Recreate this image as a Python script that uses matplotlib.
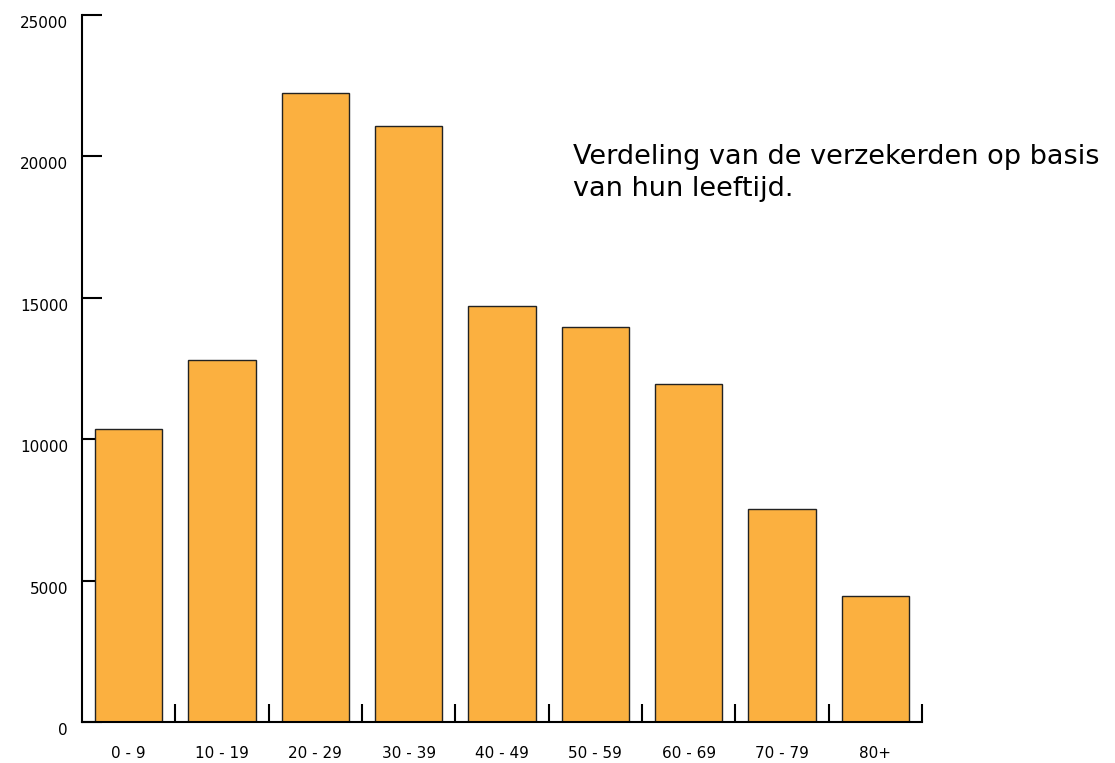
import numpy as np
import matplotlib.pyplot as plt
from matplotlib.transforms import ScaledTranslation

# Gegevens
categories = ['0 - 9', '10 - 19', '20 - 29', '30 - 39', '40 - 49', '50 - 59', '60 - 69', '70 - 79', '80+']
values = [10360, 12800, 22240, 21080, 14710, 13970, 11950, 7530, 4460]
y_ticks = [0, 5000, 10000, 15000, 20000, 25000]

fig = plt.figure(figsize=(11.15, 7.63), dpi=100)
ax = fig.add_axes([82 / 1115, 41 / 763, 840 / 1115, 707 / 763])

x = np.arange(len(categories)) + 0.5
ax.bar(x, values, width=0.72, color='#FBB040', edgecolor='#222222', linewidth=1, zorder=2)

ax.set_xlim(0, len(categories))
ax.set_ylim(0, 25000)

# Assen
for s in ['top', 'right']:
    ax.spines[s].set_visible(False)
for s in ['left', 'bottom']:
    ax.spines[s].set_linewidth(1.5)
    ax.spines[s].set_color('black')

ax.set_yticks(y_ticks)
ax.set_yticklabels([str(v) for v in y_ticks])
ax.tick_params(axis='y', direction='in', length=14.5, width=1.5, pad=10, labelsize=11)
offset = ScaledTranslation(0, -7 / 100, fig.dpi_scale_trans)
for lab in ax.get_yticklabels():
    lab.set_transform(lab.get_transform() + offset)

ax.set_xticks(x)
ax.set_xticklabels(categories)
ax.tick_params(axis='x', which='major', length=0, pad=17, labelsize=11)
ax.set_xticks(np.arange(1, len(categories) + 1), minor=True)
ax.tick_params(axis='x', which='minor', direction='in', length=13, width=1.5)

fig.text(573 / 1115, 1 - 173 / 763, 'Verdeling van de verzekerden op basis\nvan hun leeftijd.',
         fontsize=19.5, ha='left', va='center', linespacing=1.35)

plt.savefig('out.png', dpi=100)
